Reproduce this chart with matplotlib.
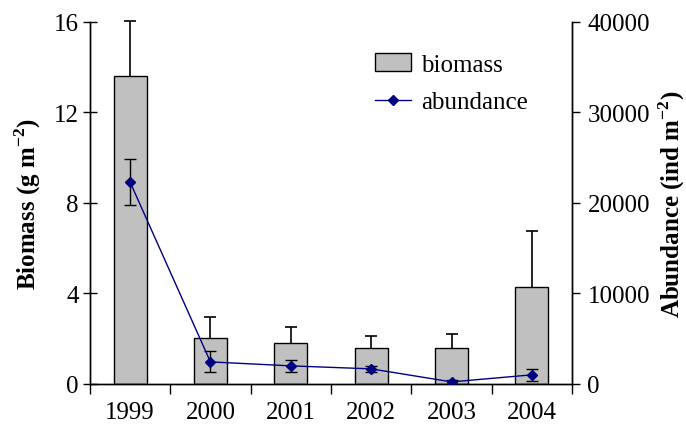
import numpy as np
import matplotlib
matplotlib.use('Agg')
import matplotlib.pyplot as plt
from matplotlib.ticker import FixedLocator

plt.rcParams['font.family'] = ['Liberation Serif', 'DejaVu Serif']
plt.rcParams['mathtext.fontset'] = 'custom'
plt.rcParams['mathtext.rm'] = 'Liberation Serif'
plt.rcParams['mathtext.bf'] = 'Liberation Serif:bold'

years = ['1999', '2000', '2001', '2002', '2003', '2004']
biomass = [13.6, 2.03, 1.81, 1.59, 1.59, 4.29]
biomass_err = [2.45, 0.93, 0.71, 0.53, 0.62, 2.48]
abundance = [22300, 2430, 1990, 1660, 220, 1000]
abundance_err = [2500, 1150, 700, 300, 250, 650]

fs = 18

fig = plt.figure(figsize=(6.86, 4.31), dpi=100)
ax = fig.add_axes([0.131, 0.107, 0.703, 0.840])
ax2 = ax.twinx()

x = np.arange(len(years))
bars = ax.bar(x, biomass, width=0.41, color='#c0c0c0', edgecolor='black',
              linewidth=1.0, label='biomass', zorder=2)
eb = ax.errorbar(x, biomass, yerr=[np.zeros(len(x)), biomass_err], fmt='none',
                 ecolor='black', elinewidth=1.2, capsize=4, capthick=1.2, zorder=1)
for art in eb.lines[1] + eb.lines[2]:
    art.set_clip_on(False)
# only keep the upper caps
for cap in eb.lines[1]:
    if np.allclose(cap.get_ydata(), biomass):
        cap.set_visible(False)

line, = ax2.plot(x, abundance, color='navy', linewidth=1.0, marker='D',
                 markersize=5, label='abundance', zorder=3)
ax2.errorbar(x, abundance, yerr=abundance_err, fmt='none', ecolor='black',
             elinewidth=1.0, capsize=4, capthick=1.0, zorder=2)

ax.set_xlim(-0.5, len(years) - 0.5)
ax.set_ylim(0, 16)
ax2.set_ylim(0, 40000)
ax.set_yticks([0, 4, 8, 12, 16])
ax2.set_yticks([0, 10000, 20000, 30000, 40000])

ax.set_xticks(x)
ax.set_xticklabels(years)
ax.xaxis.set_minor_locator(FixedLocator(np.arange(-0.5, len(years), 1.0)))
ax.tick_params(axis='x', which='major', length=0, pad=12, labelsize=fs)
ax.tick_params(axis='x', which='minor', length=7, direction='out', width=1)
ax.tick_params(axis='y', direction='inout', length=10, width=1, labelsize=fs, pad=3)
ax2.tick_params(axis='y', direction='out', length=6, width=1, labelsize=fs, pad=5)

for a in (ax, ax2):
    a.spines['top'].set_visible(False)
    for s in a.spines.values():
        s.set_linewidth(1.0)

ax.set_ylabel('Biomass (g m$^{\\mathbf{-2}}$)', fontsize=fs, fontweight='bold', labelpad=8)
ax2.set_ylabel('Abundance (ind m$^{\\mathbf{-2}}$)', fontsize=fs, fontweight='bold',
               rotation=90, labelpad=5)

ax2.legend([bars, line], ['biomass', 'abundance'], loc='upper left',
           bbox_to_anchor=(0.545, 0.975), frameon=False, fontsize=fs,
           handlelength=1.45, handletextpad=0.4, labelspacing=0.6)

fig.savefig('out.png', dpi=100)
